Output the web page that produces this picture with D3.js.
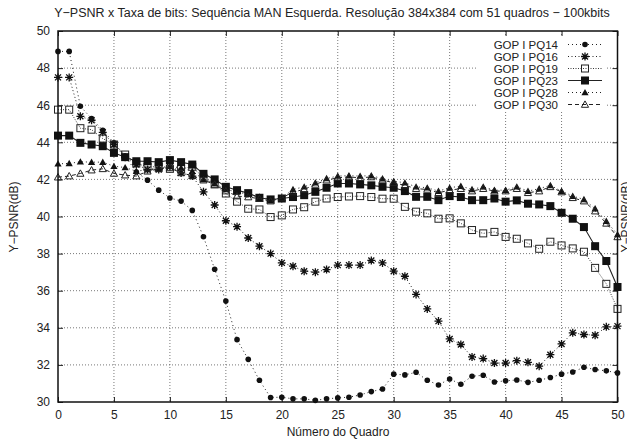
<!DOCTYPE html>
<html>
<head>
<meta charset="utf-8">
<script src="https://cdn.jsdelivr.net/npm/d3@7"></script>
<style>
  body { margin: 0; background: #fff; }
  text { font-family: "Liberation Sans", Arial, sans-serif; fill: #222; }
</style>
</head>
<body>
<div id="chart"></div>
<script>
// frame numbers 0..50
var frames = d3.range(0, 51);

var pq14 = [48.9, 48.9, 45.94, 45.28, 44.65, 43.97, 43.25, 42.4, 41.96, 41.42, 41.0, 40.83, 40.33, 38.91, 37.16, 35.44, 33.36, 32.3,
  31.17, 30.24, 30.26, 30.17, 30.17, 30.09, 30.17, 30.22, 30.26, 30.38, 30.56, 30.7, 31.5, 31.46, 31.6, 31.17, 30.92,
  31.24, 30.96, 31.39, 31.44, 31.08, 31.14, 31.19, 31.06, 31.17, 31.32, 31.5, 31.62, 31.87, 31.75, 31.68, 31.57];

var pq16 = [47.5, 47.5, 45.4, 45.19, 44.54, 43.88, 43.2, 42.8, 42.53, 42.53, 42.68, 42.35, 42.18, 41.33, 40.62, 39.77, 39.45, 38.84,
  38.4, 38.0, 37.5, 37.32, 37.05, 37.0, 37.14, 37.38, 37.38, 37.38, 37.63, 37.5, 37.05, 36.78, 35.8, 35.02, 34.36,
  33.4, 33.1, 32.43, 32.34, 32.1, 32.1, 32.23, 32.14, 31.93, 32.55, 33.13, 33.73, 33.64, 33.6, 34.05, 34.09];

var pq19 = [45.76, 45.76, 44.76, 44.68, 44.2, 43.88, 43.34, 42.86, 42.68, 42.68, 42.57, 42.57, 42.68, 42.09, 41.73, 41.24, 40.8, 40.42,
  40.38, 39.97, 40.06, 40.38, 40.5, 40.8, 40.97, 41.05, 41.08, 41.1, 41.05, 40.96, 40.96, 40.52, 40.26, 40.17, 39.88,
  39.9, 39.63, 39.27, 39.09, 39.17, 38.9, 38.8, 38.55, 38.26, 38.64, 38.44, 38.28, 38.1, 37.23, 36.37, 35.02];

var pq23 = [44.36, 44.36, 43.97, 43.88, 43.79, 43.43, 43.2, 42.98, 42.98, 42.93, 43.04, 42.93, 42.8, 42.3, 42.0, 41.6, 41.42, 41.26,
  41.01, 40.92, 40.97, 41.05, 41.15, 41.33, 41.55, 41.78, 41.78, 41.73, 41.68, 41.6, 41.55, 41.37, 41.06, 41.06, 40.88,
  41.1, 41.05, 40.88, 40.88, 40.97, 40.8, 40.87, 40.69, 40.65, 40.56, 40.2, 39.88, 39.43, 38.4, 37.6, 36.2];

var pq28 = [42.84, 42.86, 42.95, 42.93, 42.93, 42.71, 42.64, 42.44, 42.53, 42.62, 42.71, 42.62, 42.44, 42.0, 41.78, 41.46, 41.32, 41.2,
  41.06, 40.92, 41.0, 41.46, 41.6, 41.82, 42.05, 42.18, 42.2, 42.18, 42.2, 42.04, 41.9, 41.82, 41.6, 41.55, 41.37,
  41.55, 41.64, 41.46, 41.6, 41.42, 41.42, 41.6, 41.37, 41.5, 41.68, 41.37, 41.1, 40.92, 40.42, 39.75, 39.03];

var pq30 = [42.12, 42.18, 42.32, 42.5, 42.57, 42.32, 42.23, 42.18, 42.44, 42.57, 42.62, 42.35, 42.2, 41.96, 41.73, 41.37, 41.1, 41.05,
  40.96, 40.83, 41.0, 41.32, 41.46, 41.73, 41.96, 42.09, 42.13, 42.09, 42.13, 41.96, 41.82, 41.68, 41.5, 41.46, 41.28,
  41.42, 41.5, 41.37, 41.5, 41.37, 41.37, 41.5, 41.28, 41.37, 41.6, 41.32, 41.01, 40.83, 40.29, 39.63, 38.9];

var seriesNames = ["GOP I PQ14", "GOP I PQ16", "GOP I PQ19", "GOP I PQ23", "GOP I PQ28", "GOP I PQ30"];
var xTicks = [0, 5, 10, 15, 20, 25, 30, 35, 40, 45, 50];
var yTicks = [30, 32, 34, 36, 38, 40, 42, 44, 46, 48, 50];

var svgWidth = 627;
var svgHeight = 443;
var margin = { top: 31, right: 9.5, bottom: 41, left: 58 };
var width = svgWidth - margin.left - margin.right;
var height = svgHeight - margin.top - margin.bottom;

var svg = d3.select("#chart").append("svg")
  .attr("width", svgWidth)
  .attr("height", svgHeight);

var plot = svg.append("g")
  .attr("transform", `translate(${margin.left}, ${margin.top})`);

var x = d3.scaleLinear().domain([0, 50]).range([0, width]);
var y = d3.scaleLinear().domain([30, 50]).range([height, 0]);

// grid
plot.append("g").selectAll("line").data(xTicks.slice(1, -1)).enter().append("line")
  .attr("x1", d => x(d)).attr("x2", d => x(d))
  .attr("y1", 0).attr("y2", height)
  .attr("stroke", "#555").attr("stroke-width", 0.8).attr("stroke-dasharray", "1,2");
plot.append("g").selectAll("line").data(yTicks.slice(1, -1)).enter().append("line")
  .attr("x1", 0).attr("x2", width)
  .attr("y1", d => y(d)).attr("y2", d => y(d))
  .attr("stroke", "#555").attr("stroke-width", 0.8).attr("stroke-dasharray", "1,2");

// axes with inward ticks
var xAxis = d3.axisBottom(x).tickValues(xTicks).tickSize(-5).tickPadding(8);
var yAxis = d3.axisLeft(y).tickValues(yTicks).tickSize(-5).tickPadding(8);

var gx = plot.append("g").attr("transform", `translate(0, ${height})`).call(xAxis);
var gy = plot.append("g").call(yAxis);
plot.append("g").call(d3.axisTop(x).tickValues(xTicks).tickSize(-5).tickFormat(""));
plot.append("g").attr("transform", `translate(${width}, 0)`)
  .call(d3.axisRight(y).tickValues(yTicks).tickSize(-5).tickFormat(""));

plot.selectAll(".domain").remove();
plot.selectAll(".tick line").attr("stroke", "#222");
gx.selectAll("text").style("font-size", "12px").attr("fill", "#222");
gy.selectAll("text").style("font-size", "12px").attr("fill", "#222");

// markers
function drawMarker(g, type) {
  if (type === "circle") {
    g.append("circle").attr("r", 2.8).attr("fill", "#111");
  } else if (type === "star") {
    g.append("path").attr("d", "M-4,0H4M0,-4V4M-3,-3L3,3M-3,3L3,-3")
      .attr("stroke", "#111").attr("stroke-width", 1.3).attr("fill", "none");
  } else if (type === "osquare") {
    g.append("rect").attr("x", -3.5).attr("y", -3.5).attr("width", 7).attr("height", 7)
      .attr("fill", "none").attr("stroke", "#222").attr("stroke-width", 1);
  } else if (type === "square") {
    g.append("rect").attr("x", -4).attr("y", -4).attr("width", 8).attr("height", 8)
      .attr("fill", "#111");
  } else if (type === "triangle") {
    g.append("path").attr("d", "M0,-3.6L3.6,2.8L-3.6,2.8Z").attr("fill", "#111");
  } else if (type === "otriangle") {
    g.append("path").attr("d", "M0,-3.6L3.6,2.8L-3.6,2.8Z").attr("fill", "none")
      .attr("stroke", "#222").attr("stroke-width", 1);
  }
}

var series = [
  { name: seriesNames[0], values: pq14, marker: "circle", dash: "1,3", width: 1 },
  { name: seriesNames[1], values: pq16, marker: "star", dash: "1,2.5", width: 1 },
  { name: seriesNames[2], values: pq19, marker: "osquare", dash: "1,1.5", width: 0.9 },
  { name: seriesNames[3], values: pq23, marker: "square", dash: null, width: 1.1 },
  { name: seriesNames[4], values: pq28, marker: "triangle", dash: "1,3", width: 1 },
  { name: seriesNames[5], values: pq30, marker: "otriangle", dash: "4,3", width: 1 }
];

var line = d3.line()
  .x((d, i) => x(frames[i]))
  .y(d => y(d));

series.forEach(function(s) {
  plot.append("path")
    .datum(s.values)
    .attr("fill", "none")
    .attr("stroke", "#222")
    .attr("stroke-width", s.width)
    .attr("stroke-dasharray", s.dash)
    .attr("d", line);
  plot.append("g").selectAll("g").data(s.values).enter().append("g")
    .attr("transform", (d, i) => `translate(${x(frames[i])}, ${y(d)})`)
    .each(function() { drawMarker(d3.select(this), s.marker); });
});

// legend
var legend = svg.append("g");
legend.append("rect")
  .attr("x", 478).attr("y", 37).attr("width", 128).attr("height", 73)
  .attr("fill", "#fff");
series.forEach(function(s, i) {
  var ly = 44.5 + i * 12;
  legend.append("text")
    .attr("x", 558).attr("y", ly).attr("dy", "0.35em")
    .attr("text-anchor", "end")
    .style("font-size", "11.5px")
    .text(s.name);
  legend.append("line")
    .attr("x1", 568).attr("x2", 602).attr("y1", ly).attr("y2", ly)
    .attr("stroke", "#222").attr("stroke-width", s.width)
    .attr("stroke-dasharray", s.dash);
  var m = legend.append("g").attr("transform", `translate(585, ${ly})`);
  drawMarker(m, s.marker);
});

// frame
plot.append("rect")
  .attr("x", 0).attr("y", 0).attr("width", width).attr("height", height)
  .attr("fill", "none").attr("stroke", "#111").attr("stroke-width", 1.5);

// titles
svg.append("text")
  .attr("x", 332).attr("y", 17)
  .attr("text-anchor", "middle")
  .style("font-size", "12.5px")
  .text("Y−PSNR x Taxa de bits: Sequência MAN Esquerda. Resolução 384x384 com 51 quadros − 100kbits");

svg.append("text")
  .attr("transform", "translate(18, 217) rotate(-90)")
  .attr("text-anchor", "middle")
  .style("font-size", "12px")
  .text("Y−PSNR(dB)");

svg.append("text")
  .attr("transform", "translate(630, 217) rotate(-90)")
  .attr("text-anchor", "middle")
  .style("font-size", "12px")
  .text("Y−PSNR(dB)");

svg.append("text")
  .attr("x", 338).attr("y", 436)
  .attr("text-anchor", "middle")
  .style("font-size", "12px")
  .text("Número do Quadro");
</script>
</body>
</html>
